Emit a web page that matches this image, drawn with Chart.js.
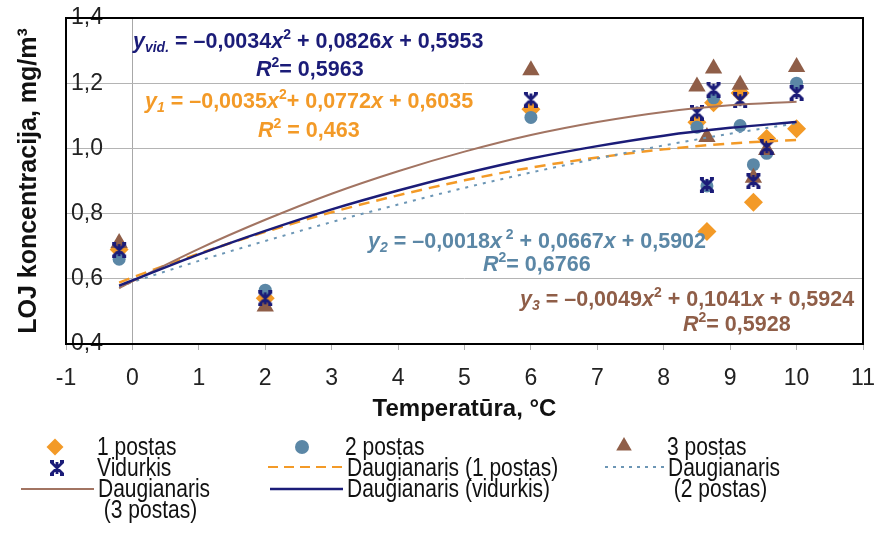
<!DOCTYPE html>
<html>
<head>
<meta charset="utf-8">
<script src="https://cdn.jsdelivr.net/npm/chart.js@4.4.1/dist/chart.umd.min.js"></script>
<style>
  html, body { margin: 0; padding: 0; background: #fff; }
</style>
</head>
<body>
<canvas id="myChart" width="874" height="537"></canvas>
<script>
// DATA
const temp = [-0.2, 2, 6, 8.5, 8.65, 8.75, 9.15, 9.35, 9.55, 10.0];
const postas1 = [0.69, 0.54, 1.12, 1.08, 0.745, 1.14, 1.17, 0.835, 1.03, 1.06];
const postas2 = [0.66, 0.565, 1.095, 1.065, 0.885, 1.155, 1.07, 0.95, 0.985, 1.2];
const postas3 = [0.71, 0.515, 1.24, 1.19, 1.035, 1.245, 1.195, 0.91, 0.995, 1.25];
const vidurkis = [0.688, 0.54, 1.15, 1.11, 0.888, 1.18, 1.148, 0.9, 1.004, 1.17];

// trend lines (Daugianaris)
const trendX = [-0.2, 0, 1, 2, 3, 4, 5, 6, 7, 8, 9, 10];
const trend1 = [0.588, 0.604, 0.677, 0.744, 0.804, 0.856, 0.902, 0.941, 0.972, 0.997, 1.015, 1.026];
const trend2 = [0.577, 0.590, 0.655, 0.716, 0.774, 0.828, 0.879, 0.926, 0.969, 1.009, 1.045, 1.077];
const trend3 = [0.571, 0.592, 0.692, 0.781, 0.861, 0.930, 0.990, 1.041, 1.081, 1.112, 1.132, 1.143];
const trendVid = [0.579, 0.595, 0.675, 0.747, 0.813, 0.871, 0.923, 0.969, 1.007, 1.039, 1.063, 1.081];

const xRange = [-1, 11];
const yRange = [0.4, 1.4];

const cOrange = "#F39A27";
const cBlue = "#5B87A6";
const cBrown = "#8F5E48";
const cNavy = "#1B1C78";
const cBrownLine = "#A27462";
const cDotted = "#6C96B5";

const sans = "'Liberation Sans', Arial, sans-serif";

function pts(xs, ys) {
  return xs.map(function (x, i) { return { x: x, y: ys[i] }; });
}

// vidurkis marker: X with a vertical bar
function makeStar() {
  let c = document.createElement("canvas");
  c.width = 16; c.height = 16;
  let g = c.getContext("2d");
  g.strokeStyle = cNavy;
  g.lineWidth = 2.8;
  g.beginPath();
  g.moveTo(2, 2); g.lineTo(14, 14);
  g.moveTo(14, 2); g.lineTo(2, 14);
  g.moveTo(8, 2); g.lineTo(8, 14);
  g.moveTo(1, 1.5); g.lineTo(5, 1.5);
  g.moveTo(11, 1.5); g.lineTo(15, 1.5);
  g.moveTo(1, 14.5); g.lineTo(5, 14.5);
  g.moveTo(11, 14.5); g.lineTo(15, 14.5);
  g.stroke();
  return c;
}
const starImg = makeStar();

// equations text
const equations = [
  { color: cNavy, x: 133, y: 48, runs: [["y", "it"], ["vid.", "subit"], [" = –0,0034", ""], ["x", "it"], ["2", "sup"], [" + 0,0826", ""], ["x", "it"], [" + 0,5953", ""]] },
  { color: cNavy, x: 256, y: 76, runs: [["R", "it"], ["2", "sup"], ["= 0,5963", ""]] },
  { color: cOrange, x: 145, y: 108, runs: [["y", "it"], ["1", "subit"], [" = –0,0035", ""], ["x", "it"], ["2", "sup"], ["+ 0,0772", ""], ["x", "it"], [" + 0,6035", ""]] },
  { color: cOrange, x: 258, y: 137, runs: [["R", "it"], ["2", "sup"], [" = 0,463", ""]] },
  { color: cBlue, x: 368, y: 248, runs: [["y", "it"], ["2", "subit"], [" = –0,0018", ""], ["x", "it"], [" 2", "sup"], [" + 0,0667", ""], ["x", "it"], [" + 0,5902", ""]] },
  { color: cBlue, x: 483, y: 271, runs: [["R", "it"], ["2", "sup"], ["= 0,6766", ""]] },
  { color: cBrown, x: 520, y: 306, runs: [["y", "it"], ["3", "subit"], [" = –0,0049", ""], ["x", "it"], ["2", "sup"], [" + 0,1041", ""], ["x", "it"], [" + 0,5924", ""]] },
  { color: cBrown, x: 683, y: 331, runs: [["R", "it"], ["2", "sup"], ["= 0,5928", ""]] },
];

function drawRuns(ctx, runs, x, y, color, size) {
  ctx.save();
  ctx.fillStyle = color;
  ctx.textBaseline = "alphabetic";
  ctx.textAlign = "left";
  runs.forEach(function (r) {
    let s = size, dy = 0;
    let style = r[1].indexOf("it") >= 0 ? "italic bold " : "bold ";
    if (r[1].indexOf("sup") >= 0) { s = size * 0.65; dy = -size * 0.4; }
    if (r[1].indexOf("sub") >= 0) { s = size * 0.65; dy = size * 0.18; }
    ctx.font = style + s + "px " + sans;
    ctx.fillText(r[0], x, y + dy);
    x += ctx.measureText(r[0]).width;
  });
  ctx.restore();
}

// legend entries
const legendItems = [
  { kind: "rectRot", color: cOrange, mx: 55, my: 447, tx: 97, ty: 455, lines: ["1 postas"] },
  { kind: "circle", color: cBlue, mx: 302, my: 447, tx: 345, ty: 455, lines: ["2 postas"] },
  { kind: "triangle", color: cBrown, mx: 624, my: 446, tx: 667, ty: 455, lines: ["3 postas"] },
  { kind: "star", color: cNavy, mx: 57, my: 468, tx: 97, ty: 476, lines: ["Vidurkis"] },
  { kind: "dash", color: cOrange, mx: 268, mx2: 342, my: 467, tx: 347, ty: 476, lines: ["Daugianaris (1 postas)"] },
  { kind: "dot", color: cDotted, mx: 605, mx2: 666, my: 467, tx: 668, ty: 476, lines: ["Daugianaris", " (2 postas)"] },
  { kind: "line", color: cBrownLine, mx: 21, mx2: 94, my: 489, tx: 98, ty: 497, lines: ["Daugianaris", " (3 postas)"] },
  { kind: "navy", color: cNavy, mx: 270, mx2: 343, my: 489, tx: 347, ty: 497, lines: ["Daugianaris (vidurkis)"] },
];

const extras = {
  id: "extras",
  afterDraw(chart) {
    const ctx = chart.ctx;
    const a = chart.chartArea;
    // plot frame
    ctx.save();
    ctx.strokeStyle = "#000";
    ctx.lineWidth = 2;
    ctx.strokeRect(a.left, a.top, a.right - a.left, a.bottom - a.top);
    ctx.restore();

    equations.forEach(function (e) { drawRuns(ctx, e.runs, e.x, e.y, e.color, 21.5); });

    legendItems.forEach(function (it) {
      ctx.save();
      ctx.fillStyle = it.color;
      ctx.strokeStyle = it.color;
      if (it.kind === "star") {
        ctx.drawImage(starImg, it.mx - 8, it.my - 8);
      } else if (it.kind === "rectRot" || it.kind === "circle" || it.kind === "triangle") {
        let r = it.kind === "triangle" ? 9 : (it.kind === "rectRot" ? 8.5 : 7);
        Chart.helpers.drawPoint(ctx, { pointStyle: it.kind, radius: r, rotation: 0, borderWidth: 0 }, it.mx, it.my);
      } else {
        ctx.beginPath();
        ctx.lineWidth = it.kind === "navy" ? 2.5 : 2;
        if (it.kind === "dash") ctx.setLineDash([10, 6]);
        if (it.kind === "dot") ctx.setLineDash([3, 5]);
        ctx.moveTo(it.mx, it.my);
        ctx.lineTo(it.mx2, it.my);
        ctx.stroke();
      }
      ctx.restore();
      // narrow-looking legend text
      ctx.save();
      ctx.fillStyle = "#111";
      ctx.font = "25px " + sans;
      ctx.textBaseline = "alphabetic";
      it.lines.forEach(function (t, i) {
        ctx.save();
        ctx.translate(it.tx, it.ty + i * 21);
        ctx.scale(0.84, 1);
        ctx.fillText(t, 0, 0);
        ctx.restore();
      });
      ctx.restore();
    });
  },
};

new Chart("myChart", {
  type: "scatter",
  data: {
    datasets: [
      { label: "1 postas", data: pts(temp, postas1), pointStyle: "rectRot", pointRadius: 9.5, backgroundColor: cOrange, borderWidth: 0, order: 8 },
      { label: "2 postas", data: pts(temp, postas2), pointStyle: "circle", pointRadius: 6.5, backgroundColor: cBlue, borderWidth: 0, order: 7 },
      { label: "3 postas", data: pts(temp, postas3), pointStyle: "triangle", pointRadius: 10, backgroundColor: cBrown, borderWidth: 0, order: 6 },
      { label: "Vidurkis", data: pts(temp, vidurkis), pointStyle: starImg, pointRadius: 8, order: 5 },
      { label: "Daugianaris (1 postas)", data: pts(trendX, trend1), showLine: true, pointRadius: 0, borderColor: cOrange, borderWidth: 2.5, borderDash: [11, 7], cubicInterpolationMode: "monotone", order: 4 },
      { label: "Daugianaris (2 postas)", data: pts(trendX, trend2), showLine: true, pointRadius: 0, borderColor: cDotted, borderWidth: 2, borderDash: [3, 6], cubicInterpolationMode: "monotone", order: 3 },
      { label: "Daugianaris (3 postas)", data: pts(trendX, trend3), showLine: true, pointRadius: 0, borderColor: cBrownLine, borderWidth: 2, cubicInterpolationMode: "monotone", order: 2 },
      { label: "Daugianaris (vidurkis)", data: pts(trendX, trendVid), showLine: true, pointRadius: 0, borderColor: cNavy, borderWidth: 2.5, cubicInterpolationMode: "monotone", order: 1 },
    ],
  },
  options: {
    responsive: false,
    animation: false,
    layout: { padding: { top: 18, right: 11, left: 0, bottom: 113 } },
    plugins: { legend: { display: false }, tooltip: { enabled: false } },
    scales: {
      x: {
        type: "linear",
        min: xRange[0],
        max: xRange[1],
        afterFit: function (s) { s.height = 80; s.paddingLeft = 0; s.paddingRight = 0; },
        border: { display: false },
        grid: {
          color: function (c) { return c.tick && c.tick.value === 0 ? "#a8a8a8" : "rgba(0,0,0,0)"; },
          tickColor: "#b0b0b0",
          tickLength: 6,
          lineWidth: 1,
        },
        ticks: { stepSize: 1, padding: 15, color: "#222", font: { family: sans, size: 23 } },
        title: { display: true, text: "Temperatūra, °C", color: "#111", font: { family: sans, size: 24, weight: "bold" }, padding: { top: 0, bottom: 0 } },
      },
      y: {
        min: yRange[0],
        max: yRange[1],
        afterFit: function (s) { s.width = 66; s.paddingTop = 0; s.paddingBottom = 0; },
        border: { display: false },
        grid: { color: "#b4b4b4", lineWidth: 1, drawTicks: false, tickLength: 0 },
        ticks: {
          stepSize: 0.2,
          mirror: true,
          crossAlign: "far",
          padding: 5,
          color: "#222",
          font: { family: sans, size: 23 },
          callback: function (v) { return v.toFixed(1).replace(".", ","); },
        },
        title: { display: true, text: "LOJ koncentracija, mg/m³", color: "#111", font: { family: sans, size: 25, weight: "bold" }, padding: { top: 14, bottom: 0 } },
      },
    },
  },
  plugins: [extras],
});
</script>
</body>
</html>
